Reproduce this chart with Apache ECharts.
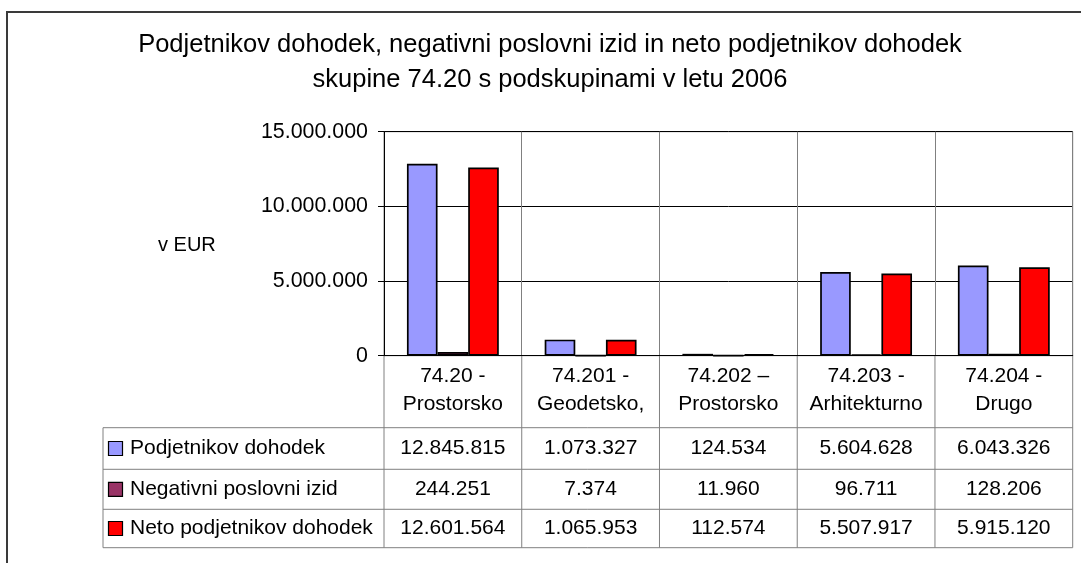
<!DOCTYPE html>
<html>
<head>
<meta charset="utf-8">
<script src="https://cdn.jsdelivr.net/npm/echarts@6/dist/echarts.min.js"></script>
<style>
html,body{margin:0;padding:0;background:#fff;}
#chart{width:1081px;height:563px;}
</style>
</head>
<body>
<div id="chart"></div>
<script>
// ---- data ----
const categories = ['74.20 -\nProstorsko', '74.201 -\nGeodetsko,', '74.202 –\nProstorsko', '74.203 -\nArhitekturno', '74.204 -\nDrugo'];
const seriesNames = ['Podjetnikov dohodek', 'Negativni poslovni izid', 'Neto podjetnikov dohodek'];
const podjetnikov = [12845815, 1073327, 124534, 5604628, 6043326];
const negativni = [244251, 7374, 11960, 96711, 128206];
const neto = [12601564, 1065953, 112574, 5507917, 5915120];
const yTicks = [0, 5000000, 10000000, 15000000];
const titleText = 'Podjetnikov dohodek, negativni poslovni izid in neto podjetnikov dohodek\nskupine 74.20 s podskupinami v letu 2006';
const yName = 'v EUR';

const seriesData = [podjetnikov, negativni, neto];
const colors = ['#9999FF', '#993366', '#FF0000'];

function fmt(n) { return String(n).replace(/\B(?=(\d{3})+(?!\d))/g, '.'); }

const FONT = '"Liberation Sans", Arial, sans-serif';
const G = { left: 384, top: 131.7, width: 688.7, height: 224 };
const tableLeft = 103;
const rowLines = [427.7, 469.3, 509.3, 547.7];

const chart = echarts.init(document.getElementById('chart'), null, { renderer: 'canvas' });

const option = {
  animation: false,
  backgroundColor: '#fff',
  title: {
    text: titleText,
    left: 550, top: 27, padding: 0,
    textAlign: 'center',
    textStyle: { fontFamily: FONT, fontSize: 25.5, fontWeight: 'normal', color: '#000', lineHeight: 35.5 }
  },
  grid: { left: G.left, top: G.top, width: G.width, height: G.height, containLabel: false, show: true, borderColor: '#808080', borderWidth: 1 },
  xAxis: {
    type: 'category',
    data: categories,
    axisLine: { show: true, lineStyle: { color: '#000', width: 1 } },
    axisTick: { show: false },
    splitLine: { show: true, lineStyle: { color: '#808080', width: 1 } },
    axisLabel: { fontFamily: FONT, fontSize: 21, color: '#000', lineHeight: 28, margin: 7, interval: 0 }
  },
  yAxis: {
    type: 'value',
    min: yTicks[0], max: yTicks[yTicks.length - 1], interval: yTicks[1] - yTicks[0],
    axisLine: { show: true, lineStyle: { color: '#000', width: 1 } },
    axisTick: { show: true, length: 6, lineStyle: { color: '#000' } },
    splitLine: { show: true, lineStyle: { color: '#000', width: 1 } },
    axisLabel: { fontFamily: FONT, fontSize: 21.4, color: '#000', margin: 16, formatter: v => fmt(v) }
  },
  series: seriesNames.map((name, i) => ({
    name: name,
    type: 'bar',
    data: seriesData[i],
    barGap: '0%',
    barCategoryGap: '33.3%',
    itemStyle: { color: colors[i], borderColor: '#000', borderWidth: 1.7 }
  }))
};
chart.setOption(option);

// ---- data table and frame ----
const graphics = [];
const right = G.left + G.width;
const axisY = G.top + G.height;
const gray = '#808080';
// outer frame
graphics.push({ type: 'rect', shape: { x: 7, y: 12, width: 1100, height: 600 }, style: { fill: null, stroke: '#3a3a3a', lineWidth: 2 }, silent: true });
// y axis name
graphics.push({ type: 'text', x: 158, y: 245, style: { text: yName, font: '20px ' + FONT, fill: '#000', textVerticalAlign: 'middle' } });
// vertical lines of table
const catW = G.width / categories.length;
for (let i = 0; i <= categories.length; i++) {
  const x = G.left + i * catW;
  graphics.push({ type: 'line', shape: { x1: x, y1: axisY, x2: x, y2: rowLines[3] }, style: { stroke: gray, lineWidth: 1 } });
}
graphics.push({ type: 'line', shape: { x1: tableLeft, y1: rowLines[0], x2: tableLeft, y2: rowLines[3] }, style: { stroke: gray, lineWidth: 1 } });
rowLines.forEach(y => {
  graphics.push({ type: 'line', shape: { x1: tableLeft, y1: y, x2: right, y2: y }, style: { stroke: gray, lineWidth: 1 } });
});
// rows
for (let r = 0; r < seriesNames.length; r++) {
  const cy = (rowLines[r] + rowLines[r + 1]) / 2;
  graphics.push({ type: 'rect', shape: { x: 108.5, y: cy - 7, width: 14, height: 14 }, style: { fill: colors[r], stroke: '#000', lineWidth: 1.2 } });
  graphics.push({ type: 'text', x: 130, y: cy, style: { text: seriesNames[r], font: '21px ' + FONT, fill: '#000', textVerticalAlign: 'middle' } });
  for (let c = 0; c < categories.length; c++) {
    const cx = chart.convertToPixel({ xAxisIndex: 0 }, c);
    graphics.push({ type: 'text', x: cx, y: cy, style: { text: fmt(seriesData[r][c]), font: '21px ' + FONT, fill: '#000', textAlign: 'center', textVerticalAlign: 'middle' } });
  }
}
chart.setOption({ graphic: graphics });
</script>
</body>
</html>
